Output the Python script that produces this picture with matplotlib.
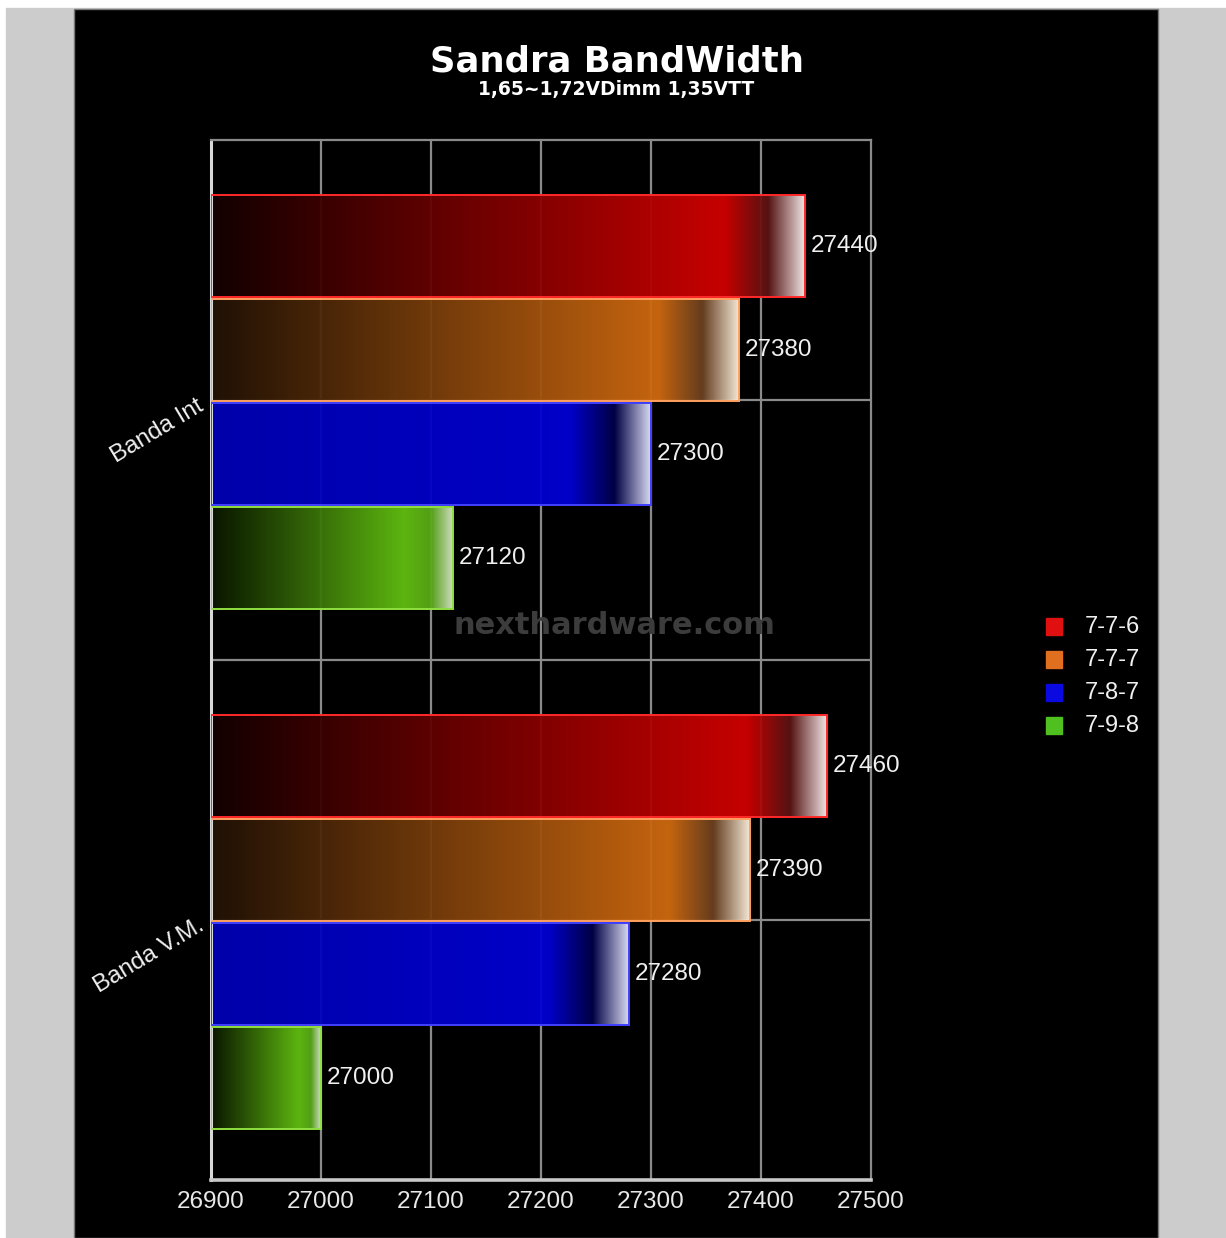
import numpy as np
import matplotlib
matplotlib.use("Agg")
from matplotlib import pyplot as plt
from matplotlib.patches import Rectangle
from matplotlib.colors import to_rgb

categories = ['Banda Int', 'Banda V.M.']
series_names = ['7-7-6', '7-7-7', '7-8-7', '7-9-8']
vals_776 = [27440, 27460]
vals_777 = [27380, 27390]
vals_787 = [27300, 27280]
vals_798 = [27120, 27000]
x_ticks = [26900, 27000, 27100, 27200, 27300, 27400, 27500]

series_vals = [vals_776, vals_777, vals_787, vals_798]

# gradient styles per series: (left, bright, dip, end, edge, legend)
styles = [
    ('#140000', '#d20000', '#5a1414', '#fbeeee', '#ff2a2a', '#e01010'),
    ('#221206', '#d06a10', '#6a4020', '#fff2e0', '#ffa060', '#e07020'),
    ('#0000b4', '#0000d4', '#000048', '#e4e4ff', '#4040ff', '#0a0ae0'),
    ('#0a1600', '#62c010', '#58a818', '#d8e8c8', '#90e040', '#50c020'),
]

W, H = 1226, 1238
fig = plt.figure(figsize=(W / 100, H / 100), dpi=100, facecolor='white')
fig.patches.append(Rectangle((6 / W, 0), 1, 1 - 8 / H, transform=fig.transFigure,
                             color='#cccccc', zorder=-10))
fig.patches.append(Rectangle((74 / W, 0), (1158 - 74) / W, 1 - 9 / H,
                             transform=fig.transFigure, facecolor='black',
                             edgecolor='#777777', lw=1, zorder=-9))

ax_l, ax_r, ax_t, ax_b = 211, 871, 140, 1180
ax = fig.add_axes([ax_l / W, 1 - ax_b / H, (ax_r - ax_l) / W, (ax_b - ax_t) / H])
ax.set_facecolor('black')
xmin, xmax = x_ticks[0], x_ticks[-1]
ax.set_xlim(xmin, xmax)
ax.set_ylim(1.5, -0.5)
px_per_unit = (ax_r - ax_l) / (xmax - xmin)

# grid
for xt in x_ticks[1:-1]:
    ax.axvline(xt, color='#8a8a8a', lw=1.6, zorder=1)
for yg in [0, 0.5, 1.0]:
    ax.axhline(yg, color='#8a8a8a', lw=1.6, zorder=1)

bar_h = 0.195
offsets = [-0.3, -0.1, 0.1, 0.3]

def bar_gradient(v, st):
    left, bright, dip, end = [np.array(to_rgb(c)) for c in st[:4]]
    wpx = (v - xmin) * px_per_unit
    L = min(0.2 * wpx, 80)
    p = np.linspace(0, wpx, 400)
    stops = [0, wpx - L, wpx - 0.45 * L, wpx]
    cols = np.array([left, bright, dip, end])
    img = np.zeros((1, len(p), 3))
    for k in range(3):
        img[0, :, k] = np.interp(p, stops, cols[:, k])
    return img

for si, (vals, st) in enumerate(zip(series_vals, styles)):
    for ci, v in enumerate(vals):
        yc = ci + offsets[si] + 0.004
        img = bar_gradient(v, st)
        ax.imshow(img, extent=(xmin, v, yc + bar_h / 2, yc - bar_h / 2),
                  aspect='auto', interpolation='bilinear', zorder=2, alpha=0.95)
        ax.add_patch(Rectangle((xmin, yc - bar_h / 2), v - xmin, bar_h,
                               fill=False, edgecolor=st[4], lw=1.4, zorder=3))
        ax.text(v + 6 / px_per_unit, yc, f'{v}', color='#f0f0f0', fontsize=17.5,
                family='Liberation Sans', va='center', ha='left', zorder=4)

ax.set_xlim(xmin, xmax)
ax.set_ylim(1.5, -0.5)
ax.set_xticks(x_ticks)
ax.set_xticklabels([str(t) for t in x_ticks], color='#e8e8e8', fontsize=17.5,
                   family='Liberation Sans')
ax.tick_params(axis='x', length=0, pad=8)
ax.set_yticks([])
for side in ['top', 'right']:
    ax.spines[side].set_color('#8a8a8a')
    ax.spines[side].set_linewidth(1.6)
ax.spines['left'].set_color('#d8d8d8')
ax.spines['left'].set_linewidth(2.2)
ax.spines['bottom'].set_color('#c8c8c8')
ax.spines['bottom'].set_linewidth(2.6)

for ci, cat in enumerate(categories):
    ax.text(-0.022, ci - 0.01, cat, transform=ax.get_yaxis_transform(),
            rotation=31, rotation_mode='anchor', ha='right', va='top',
            color='#f0f0f0', fontsize=17.5, family='Liberation Sans')

# title
fig.text(617 / W, 1 - 61 / H, 'Sandra BandWidth', color='white', fontsize=25.5,
         fontweight='heavy', family='DejaVu Sans', ha='center', va='center')
fig.text(616 / W, 1 - 90 / H, '1,65~1,72VDimm 1,35VTT', color='white',
         fontsize=13.5, fontweight='bold', family='DejaVu Sans', ha='center',
         va='center')

# watermark
fig.text(614 / W, 1 - 626 / H, 'nexthardware.com', color='#3c3c3c', fontsize=22,
         fontweight='bold', family='DejaVu Sans', ha='center', va='center',
         zorder=5)

# legend
for i, (name, st) in enumerate(zip(series_names, styles)):
    yy = 627 + i * 33
    fig.patches.append(Rectangle((1046 / W, 1 - (yy + 8) / H), 16 / W, 17 / H,
                                 transform=fig.transFigure, color=st[5], zorder=3))
    fig.text(1085 / W, 1 - yy / H, name, color='#f0f0f0', fontsize=17,
             family='Liberation Sans', ha='left', va='center')

fig.savefig('out.png', dpi=100, facecolor='white')
